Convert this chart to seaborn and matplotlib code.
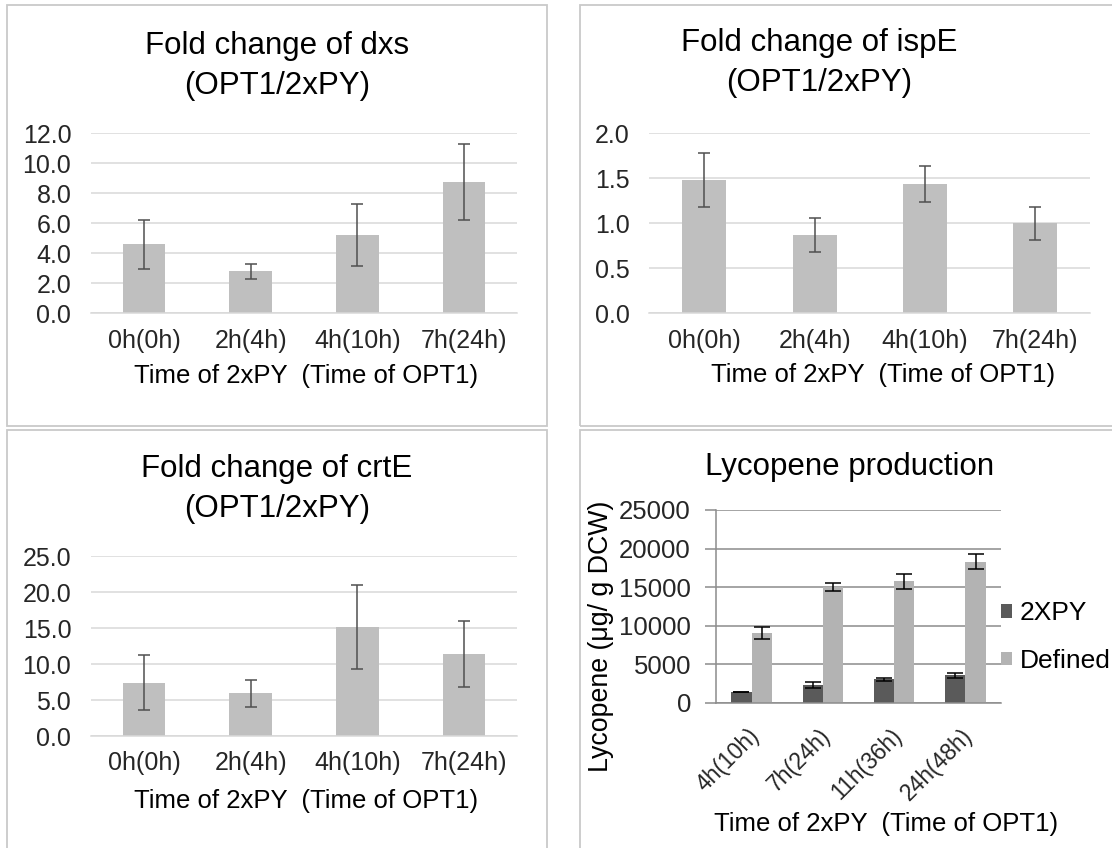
import pandas as pd
import seaborn as sns
import matplotlib.pyplot as plt
from matplotlib.patches import Rectangle
from matplotlib.transforms import ScaledTranslation

W, H = 1112, 848

# fold change panels (OPT1 / 2xPY), mean and error bar half-length
time_labels = ["0h(0h)", "2h(4h)", "4h(10h)", "7h(24h)"]
dxs_fold = [4.60, 2.82, 5.22, 8.73]
dxs_err = [1.63, 0.50, 2.06, 2.54]
ispe_fold = [1.48, 0.87, 1.44, 1.00]
ispe_err = [0.30, 0.19, 0.20, 0.18]
crte_fold = [7.40, 5.93, 15.10, 11.39]
crte_err = [3.80, 1.90, 5.85, 4.57]

# lycopene production (ug / g DCW)
lyco_labels = ["4h(10h)", "7h(24h)", "11h(36h)", "24h(48h)"]
lyco_media = ["2XPY", "Defined"]
lyco_2xpy = [1430, 2340, 3080, 3600]
lyco_2xpy_err = [40, 390, 200, 330]
lyco_defined = [9090, 15030, 15750, 18300]
lyco_defined_err = [780, 560, 970, 1000]

sns.set_style("white")
plt.rcParams["font.family"] = ["Liberation Sans", "DejaVu Sans"]
plt.rcParams["text.color"] = "#000000"

TITLE_FS = 22.5
TICK_FS = 18
LABEL_FS = 18.5


def px_axes(fig, x0, y0, x1, y1):
    # pixel box (top-left origin) -> figure axes
    return fig.add_axes([x0 / W, 1 - y1 / H, (x1 - x0) / W, (y1 - y0) / H])


def px_text(fig, x, y, s, **kw):
    fig.text(x / W, 1 - y / H, s, ha="center", va="center", **kw)


def panel_frame(fig, x0, y0, x1, y1):
    fig.patches.append(Rectangle((x0 / W, 1 - y1 / H), (x1 - x0) / W, (y1 - y0) / H,
                                 transform=fig.transFigure, fill=False,
                                 ec="#C9C9C9", lw=1.3))


def fold_panel(fig, ax, values, errs, ytop, ystep):
    sns.barplot(x=time_labels, y=values, color="#BFBFBF", width=0.4, saturation=1,
                linewidth=0, errorbar=None, ax=ax)
    ax.errorbar(range(len(values)), values, yerr=errs, fmt="none", ecolor="#505050",
                elinewidth=1.1, capsize=4.5, capthick=1.1, zorder=3)
    ax.set_xlim(-0.5, 3.5)
    ax.set_ylim(0, ytop)
    ax.set_yticks([i * ystep for i in range(int(round(ytop / ystep)) + 1)])
    ax.yaxis.set_major_formatter("{x:.1f}")
    ax.yaxis.grid(True, color="#D9D9D9", lw=1.1)
    ax.set_axisbelow(True)
    for side in ["left", "right", "top"]:
        ax.spines[side].set_visible(False)
    ax.spines["bottom"].set_color("#D9D9D9")
    ax.spines["bottom"].set_linewidth(1.1)
    ax.tick_params(axis="x", length=0, pad=11, labelsize=TICK_FS)
    ax.tick_params(axis="y", length=0, pad=14, labelsize=TICK_FS)
    ax.set_xlabel("")
    ax.set_ylabel("")


fig = plt.figure(figsize=(W / 100, H / 100), dpi=100)

# panel frames
panel_frame(fig, 6.5, 5.5, 547, 426)
panel_frame(fig, 579.5, 5.5, 1130, 426)
panel_frame(fig, 6.5, 430, 547, 860)
panel_frame(fig, 579.5, 430, 1130, 860)

# dxs
ax1 = px_axes(fig, 90.7, 133.3, 517.3, 313.3)
fold_panel(fig, ax1, dxs_fold, dxs_err, 12.0, 2.0)
px_text(fig, 277, 66, "Fold change of dxs\n(OPT1/2xPY)", fontsize=TITLE_FS, linespacing=1.45)
px_text(fig, 306, 376, "Time of 2xPY  (Time of OPT1)", fontsize=LABEL_FS)

# ispE
ax2 = px_axes(fig, 649.3, 133.3, 1090, 313.3)
fold_panel(fig, ax2, ispe_fold, ispe_err, 2.0, 0.5)
px_text(fig, 819, 63, "Fold change of ispE\n(OPT1/2xPY)", fontsize=TITLE_FS, linespacing=1.45)
px_text(fig, 883, 375, "Time of 2xPY  (Time of OPT1)", fontsize=LABEL_FS)

# crtE
ax3 = px_axes(fig, 90.7, 556, 517.3, 736)
fold_panel(fig, ax3, crte_fold, crte_err, 25.0, 5.0)
px_text(fig, 277, 489, "Fold change of crtE\n(OPT1/2xPY)", fontsize=TITLE_FS, linespacing=1.45)
px_text(fig, 306, 801, "Time of 2xPY  (Time of OPT1)", fontsize=LABEL_FS)

# lycopene
ax4 = px_axes(fig, 716, 510, 1001, 703)
lyco_df = pd.DataFrame({
    "time": lyco_labels * 2,
    "medium": [lyco_media[0]] * 4 + [lyco_media[1]] * 4,
    "value": lyco_2xpy + lyco_defined,
})
sns.barplot(data=lyco_df, x="time", y="value", hue="medium", hue_order=lyco_media,
            palette=["#5A5A5A", "#B3B3B3"], width=0.57, saturation=1, linewidth=0,
            errorbar=None, ax=ax4)
for cont, errs in zip(ax4.containers, [lyco_2xpy_err, lyco_defined_err]):
    xs = [b.get_x() + b.get_width() / 2 for b in cont]
    ys = [b.get_height() for b in cont]
    ax4.errorbar(xs, ys, yerr=errs, fmt="none", ecolor="black", elinewidth=1.1,
                 capsize=5.5, capthick=1.1, zorder=3)
ax4.set_xlim(-0.5, 3.5)
ax4.set_ylim(0, 25000)
ax4.set_yticks(range(0, 25001, 5000))
ax4.yaxis.grid(True, color="#8C8C8C", lw=1.1)
ax4.set_axisbelow(True)
for side in ["right", "top"]:
    ax4.spines[side].set_visible(False)
for side in ["left", "bottom"]:
    ax4.spines[side].set_color("#8C8C8C")
    ax4.spines[side].set_linewidth(1.1)
ax4.set_xticks([i - 0.5 for i in range(5)], minor=True)
ax4.tick_params(axis="x", which="minor", length=8, color="#8C8C8C", width=1.1, direction="out")
ax4.tick_params(axis="x", which="major", length=0, pad=15, labelsize=16.5)
ax4.tick_params(axis="y", length=8, color="#8C8C8C", width=1.1, direction="out",
                pad=10, labelsize=18.5, left=True)
ax4.set_xticks(range(4))
ax4.set_xticklabels(lyco_labels, rotation=45, ha="right", rotation_mode="anchor")
for lab in ax4.get_xticklabels():
    lab.set_transform(lab.get_transform() + ScaledTranslation(-0.04, 0, fig.dpi_scale_trans))
ax4.set_xlabel("")
ax4.set_ylabel("")
ax4.legend(loc="center left", bbox_to_anchor=(1001 / W, 1 - 637 / H),
           bbox_transform=fig.transFigure, frameon=False, fontsize=19,
           handlelength=0.42, handleheight=0.42, handletextpad=0.3,
           labelspacing=0.9, borderpad=0, borderaxespad=0)
px_text(fig, 849.5, 467, "Lycopene production", fontsize=22.5)
px_text(fig, 601.5, 636.5, "Lycopene (μg/ g DCW)", fontsize=19.3, rotation=90)
px_text(fig, 886, 824, "Time of 2xPY  (Time of OPT1)", fontsize=LABEL_FS)

fig.savefig("out.png", dpi=100, facecolor="white")
